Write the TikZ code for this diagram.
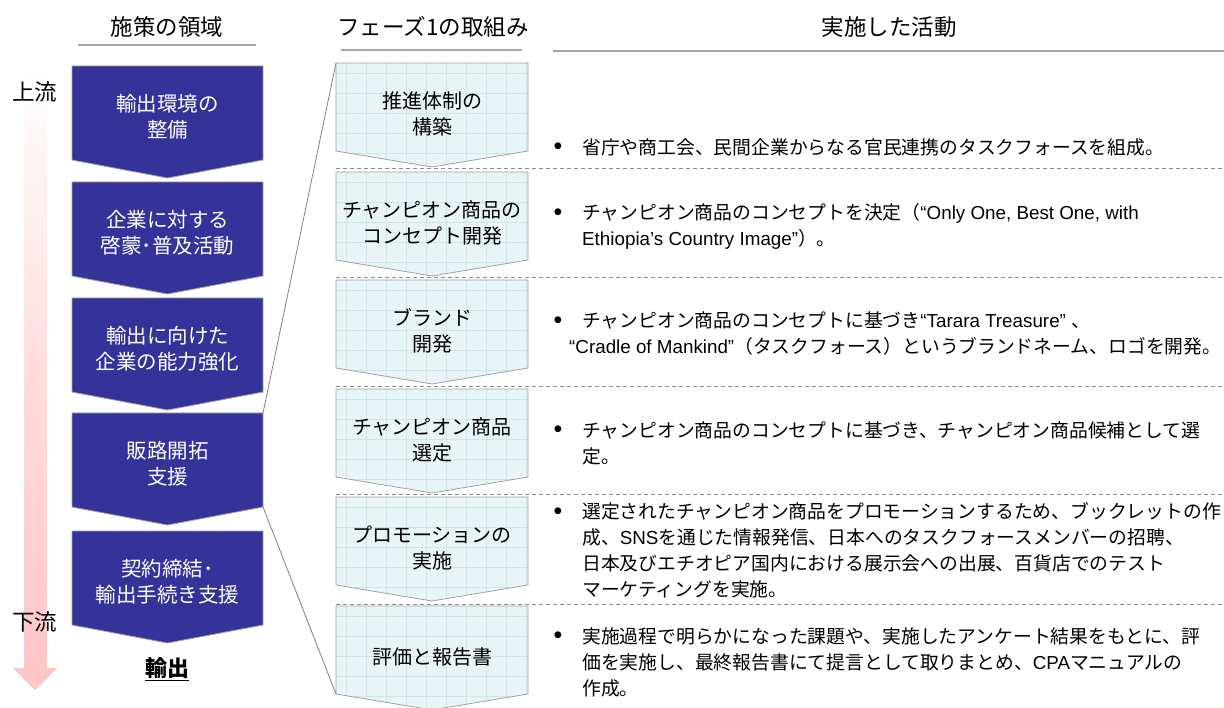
\documentclass[tikz,border=0pt]{standalone}
\usepackage{fontspec}
\setmainfont{Noto Sans CJK JP}
\newfontfamily\latn{Liberation Sans}
\definecolor{navy}{HTML}{333399}
\definecolor{pinkc}{HTML}{FFC6C6}
\definecolor{cyanfill}{HTML}{E8F5F7}
\definecolor{gridc}{HTML}{CDE6EB}
\definecolor{rulegray}{HTML}{A6A6A6}
\definecolor{edgegray}{HTML}{A0A0A0}
\definecolor{linkgray}{HTML}{808080}
\definecolor{dashgray}{HTML}{8C8C8C}
\newcommand\bul{\makebox[29pt][l]{\hspace{0.5pt}\raisebox{-0.5pt}{\latn\fontsize{25}{26}\selectfont •}}}
\newcommand\ind{\hspace*{29pt}}
\newcommand\lblock[3]{%
  \draw[lblk] (72,#2) -- (263,#2) -- (263,#2+94) -- (167.5,#2+112) -- (72,#2+94) -- cycle;
  \node[ltext] (#1) at (167.5,#2+51) {#3};
}
\newcommand\mblock[3]{%
  \begin{scope}
    \clip (336,#2) -- (528,#2) -- (528,#2+88) -- (432,#2+104) -- (336,#2+88) -- cycle;
    \fill[cyanfill] (330,#2-5) rectangle (535,#2+110);
    \foreach \gx in {346,366,...,526} \draw[gridc,line width=0.6pt] (\gx,#2-5) -- (\gx,#2+110);
    \foreach \gy in {10,30,...,110} \draw[gridc,line width=0.6pt] (330,#2+\gy) -- (535,#2+\gy);
  \end{scope}
  \draw[mblk] (336,#2) -- (528,#2) -- (528,#2+88) -- (432,#2+104) -- (336,#2+88) -- cycle;
  \node[mtext] (#1) at (432,#2+51) {#3};
}
\begin{document}
\begin{tikzpicture}[x=1pt,y=-1pt,
  lblk/.style={fill=navy,draw=edgegray,line width=0.8pt},
  mblk/.style={draw=edgegray,line width=0.8pt},
  ltext/.style={text=white,align=center,font=\fontsize{20.5}{26}\selectfont,inner sep=0},
  mtext/.style={text=black,align=center,font=\fontsize{20}{26}\selectfont,inner sep=0},
  rtext/.style={anchor=west,align=left,font=\fontsize{18.8}{26}\selectfont,inner sep=0},
  head/.style={font=\fontsize{22.5}{26}\selectfont,inner sep=0},
  rulel/.style={draw=rulegray,line width=1.6pt},
  sep/.style={draw=dashgray,line width=0.8pt,dash pattern=on 4pt off 3pt},
  link/.style={draw=linkgray,line width=0.8pt}]
\useasboundingbox (0,0) rectangle (1224,708);

% headers
\node[head] (h1) at (167,27) {施策の領域};
\node[head] (h2) at (433,27) {フェーズ1の取組み};
\node[head] (h3) at (889,27) {実施した活動};
\draw[rulel] (78,45) -- (256,45);
\draw[rulel] (341,50) -- (522,50);
\draw[rulel] (553,51) -- (1224,51);

% pink flow arrow
\shade[top color=white, bottom color=pinkc, middle color=pinkc!60] (24,66) rectangle (47,668);
\fill[pinkc] (13,668) -- (57,668) -- (35,690) -- cycle;
\node[head] (up) at (35,92) {上流};
\node[head] (down) at (35,622) {下流};

% left blocks
\lblock{L1}{66}{輸出環境の\\整備}
\lblock{L2}{182}{企業に対する\\啓蒙･普及活動}
\lblock{L3}{298}{輸出に向けた\\企業の能力強化}
\lblock{L4}{413}{販路開拓\\支援}
\lblock{L5}{531}{契約締結･\\輸出手続き支援}
\node[head,font=\fontsize{22}{26}\selectfont\bfseries] (exp) at (167,669) {\underline{輸出}};

% separators
\draw[sep] (336,168) -- (1224,168);
\draw[sep] (336,277) -- (1224,277);
\draw[sep] (336,386) -- (1224,386);
\draw[sep] (336,494) -- (1224,494);
\draw[sep] (336,604) -- (1224,604);

% middle blocks
\mblock{M1}{63}{推進体制の\\構築}
\mblock{M2}{172}{チャンピオン商品の\\コンセプト開発}
\mblock{M3}{280}{ブランド\\開発}
\mblock{M4}{389}{チャンピオン商品\\選定}
\mblock{M5}{497}{プロモーションの\\実施}
\mblock{M6}{606}{評価と報告書}

% zoom links
\coordinate (L4tr) at (263,413);
\coordinate (L4br) at (263,507);
\coordinate (M1tl) at (336,63);
\coordinate (M6bl) at (336,694);
\draw[link] (L4tr) -- (M1tl);
\draw[link] (L4br) -- (M6bl);

% activities
\node[rtext] (R1) at (553,147) {\bul 省庁や商工会、民間企業からなる官民連携のタスクフォースを組成。};
\node[rtext] (R2) at (553,226.5) {\bul チャンピオン商品のコンセプトを決定（{\latn “Only One, Best One, with}\\\ind{\latn Ethiopia’s Country Image”}）。};
\node[rtext] (R3) at (553,334) {\bul チャンピオン商品のコンセプトに基づき{\latn “Tarara Treasure” }、\\\hspace*{16pt}{\latn “Cradle of Mankind”}（タスクフォース）というブランドネーム、ロゴを開発。};
\node[rtext] (R4) at (553,443) {\bul チャンピオン商品のコンセプトに基づき、チャンピオン商品候補として選\\\ind 定。};
\node[rtext] (R5) at (553,550.5) {\bul 選定されたチャンピオン商品をプロモーションするため、ブックレットの作\\\ind 成、{\latn SNS}を通じた情報発信、日本へのタスクフォースメンバーの招聘、\\\ind 日本及びエチオピア国内における展示会への出展、百貨店でのテスト\\\ind マーケティングを実施。};
\node[rtext] (R6) at (553,662) {\bul 実施過程で明らかになった課題や、実施したアンケート結果をもとに、評\\\ind 価を実施し、最終報告書にて提言として取りまとめ、{\latn CPA}マニュアルの\\\ind 作成。};
\end{tikzpicture}
\end{document}
